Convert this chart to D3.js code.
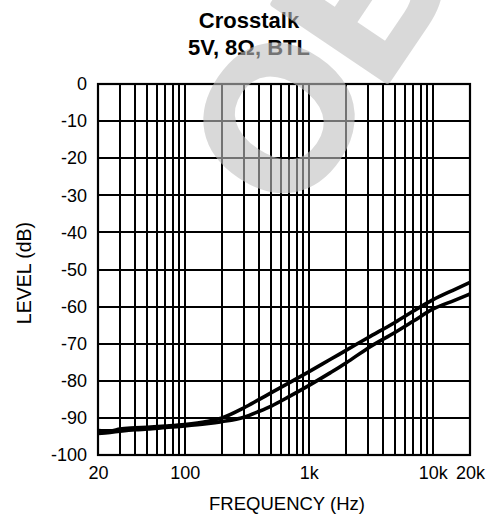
<!DOCTYPE html>
<html>
<head>
<meta charset="utf-8">
<script src="https://cdn.jsdelivr.net/npm/d3@7"></script>
<style>
  html, body { margin: 0; padding: 0; background: #fff; }
  svg { display: block; }
  text { font-family: "Liberation Sans", Arial, Helvetica, sans-serif; fill: #000; }
</style>
</head>
<body>
<svg id="chart" width="491" height="520"></svg>
<script>
// Crosstalk vs frequency, two channels (5V, 8 ohm, BTL)
const freqs = [20, 25, 30, 40, 50, 70, 100, 150, 200, 300, 400, 500, 700, 1000, 1500, 2000, 3000, 5000, 7000, 10000, 15000, 20000];
const channelA = [-93.4, -93.5, -93.0, -92.7, -92.5, -92.2, -91.8, -91.0, -90.0, -87.3, -85.0, -83.2, -80.5, -77.6, -74.2, -71.8, -68.4, -64.2, -61.2, -58.2, -55.4, -53.5];
const channelB = [-94.2, -93.9, -93.6, -93.2, -93.0, -92.6, -92.2, -91.6, -91.0, -89.8, -88.2, -86.8, -84.2, -81.3, -77.8, -75.2, -71.2, -66.9, -63.9, -60.7, -58.3, -56.6];

const xTickValues = [20, 100, 1000, 10000, 20000];
const xTickLabels = ["20", "100", "1k", "10k", "20k"];
const yTickValues = [0, -10, -20, -30, -40, -50, -60, -70, -80, -90, -100];

const titleLines = ["Crosstalk", "5V, 8\u03A9, BTL"];
const xTitle = "FREQUENCY (Hz)";
const yTitle = "LEVEL (dB)";
const watermarkText = "OBSOLETE";

(function draw() {
  const svg = d3.select("#chart");
  const plotLeft = 98, plotRight = 470, plotTop = 84, plotBottom = 455;

  const x = d3.scaleLog().domain([20, 20000]).range([plotLeft, plotRight]);
  const y = d3.scaleLinear().domain([-100, 0]).range([plotBottom, plotTop]);

  svg.append("rect").attr("width", 491).attr("height", 520).attr("fill", "#fff");

  // log grid: every 1..9 multiple of each decade
  const vGrid = [];
  [10, 100, 1000, 10000].forEach(d => {
    for (let m = 1; m <= 9; m++) {
      const v = d * m;
      if (v > 20 && v < 20000) vGrid.push(v);
    }
  });

  const grid = svg.append("g").attr("stroke", "#000").attr("stroke-width", 2);
  grid.selectAll("line.v").data(vGrid).join("line")
    .attr("class", "v")
    .attr("x1", d => Math.round(x(d))).attr("x2", d => Math.round(x(d)))
    .attr("y1", plotTop).attr("y2", plotBottom);
  grid.selectAll("line.h").data(yTickValues.filter(v => v > -100 && v < 0)).join("line")
    .attr("class", "h")
    .attr("x1", plotLeft).attr("x2", plotRight)
    .attr("y1", d => Math.round(y(d))).attr("y2", d => Math.round(y(d)));

  svg.append("rect")
    .attr("x", plotLeft).attr("y", plotTop)
    .attr("width", plotRight - plotLeft).attr("height", plotBottom - plotTop)
    .attr("fill", "none").attr("stroke", "#000").attr("stroke-width", 2.2);

  // curves
  const line = d3.line()
    .x((d, i) => x(freqs[i]))
    .y(d => y(d))
    .curve(d3.curveMonotoneX);

  svg.append("g").selectAll("path").data([channelA, channelB]).join("path")
    .attr("d", line)
    .attr("fill", "none")
    .attr("stroke", "#000")
    .attr("stroke-width", 3.6)
    .attr("stroke-linejoin", "round");

  // axes
  const xAxis = d3.axisBottom(x)
    .tickValues(xTickValues)
    .tickFormat((d, i) => xTickLabels[i])
    .tickSize(0).tickPadding(11);
  const gx = svg.append("g").attr("transform", `translate(0,${plotBottom})`).call(xAxis);
  gx.select(".domain").remove();
  gx.attr("font-family", null).attr("font-size", null);
  gx.selectAll("text").attr("font-size", 18);

  const yAxis = d3.axisLeft(y)
    .tickValues(yTickValues)
    .tickFormat(d => String(d))
    .tickSize(0).tickPadding(11);
  const gy = svg.append("g").attr("transform", `translate(${plotLeft},0)`).call(yAxis);
  gy.select(".domain").remove();
  gy.attr("font-family", null).attr("font-size", null);
  gy.selectAll("text").attr("font-size", 18);

  // titles
  svg.append("g").selectAll("text").data(titleLines).join("text")
    .attr("x", 249)
    .attr("y", (d, i) => 28 + i * 27)
    .attr("text-anchor", "middle")
    .attr("font-size", 22)
    .attr("font-weight", "bold")
    .text(d => d);

  svg.append("text")
    .attr("x", 287).attr("y", 510)
    .attr("text-anchor", "middle")
    .attr("font-size", 18.5)
    .text(xTitle);

  svg.append("text")
    .attr("transform", "translate(31,273) rotate(-90)")
    .attr("text-anchor", "middle")
    .attr("font-size", 19.5)
    .text(yTitle);

  // diagonal status stamp over the chart (heavy outlined lettering, translucent)
  const fs = 200;
  svg.append("g")
    .attr("opacity", 0.6)
    .append("text")
    .attr("transform", "translate(277,116) rotate(-56)")
    .attr("x", -0.39 * fs)
    .attr("y", 0.36 * fs)
    .attr("font-size", fs)
    .attr("font-weight", "bold")
    .style("fill", "#c0c0c0")
    .style("stroke", "#c0c0c0")
    .style("stroke-width", 6)
    .style("stroke-linejoin", "round")
    .text(watermarkText);
})();
</script>
</body>
</html>
